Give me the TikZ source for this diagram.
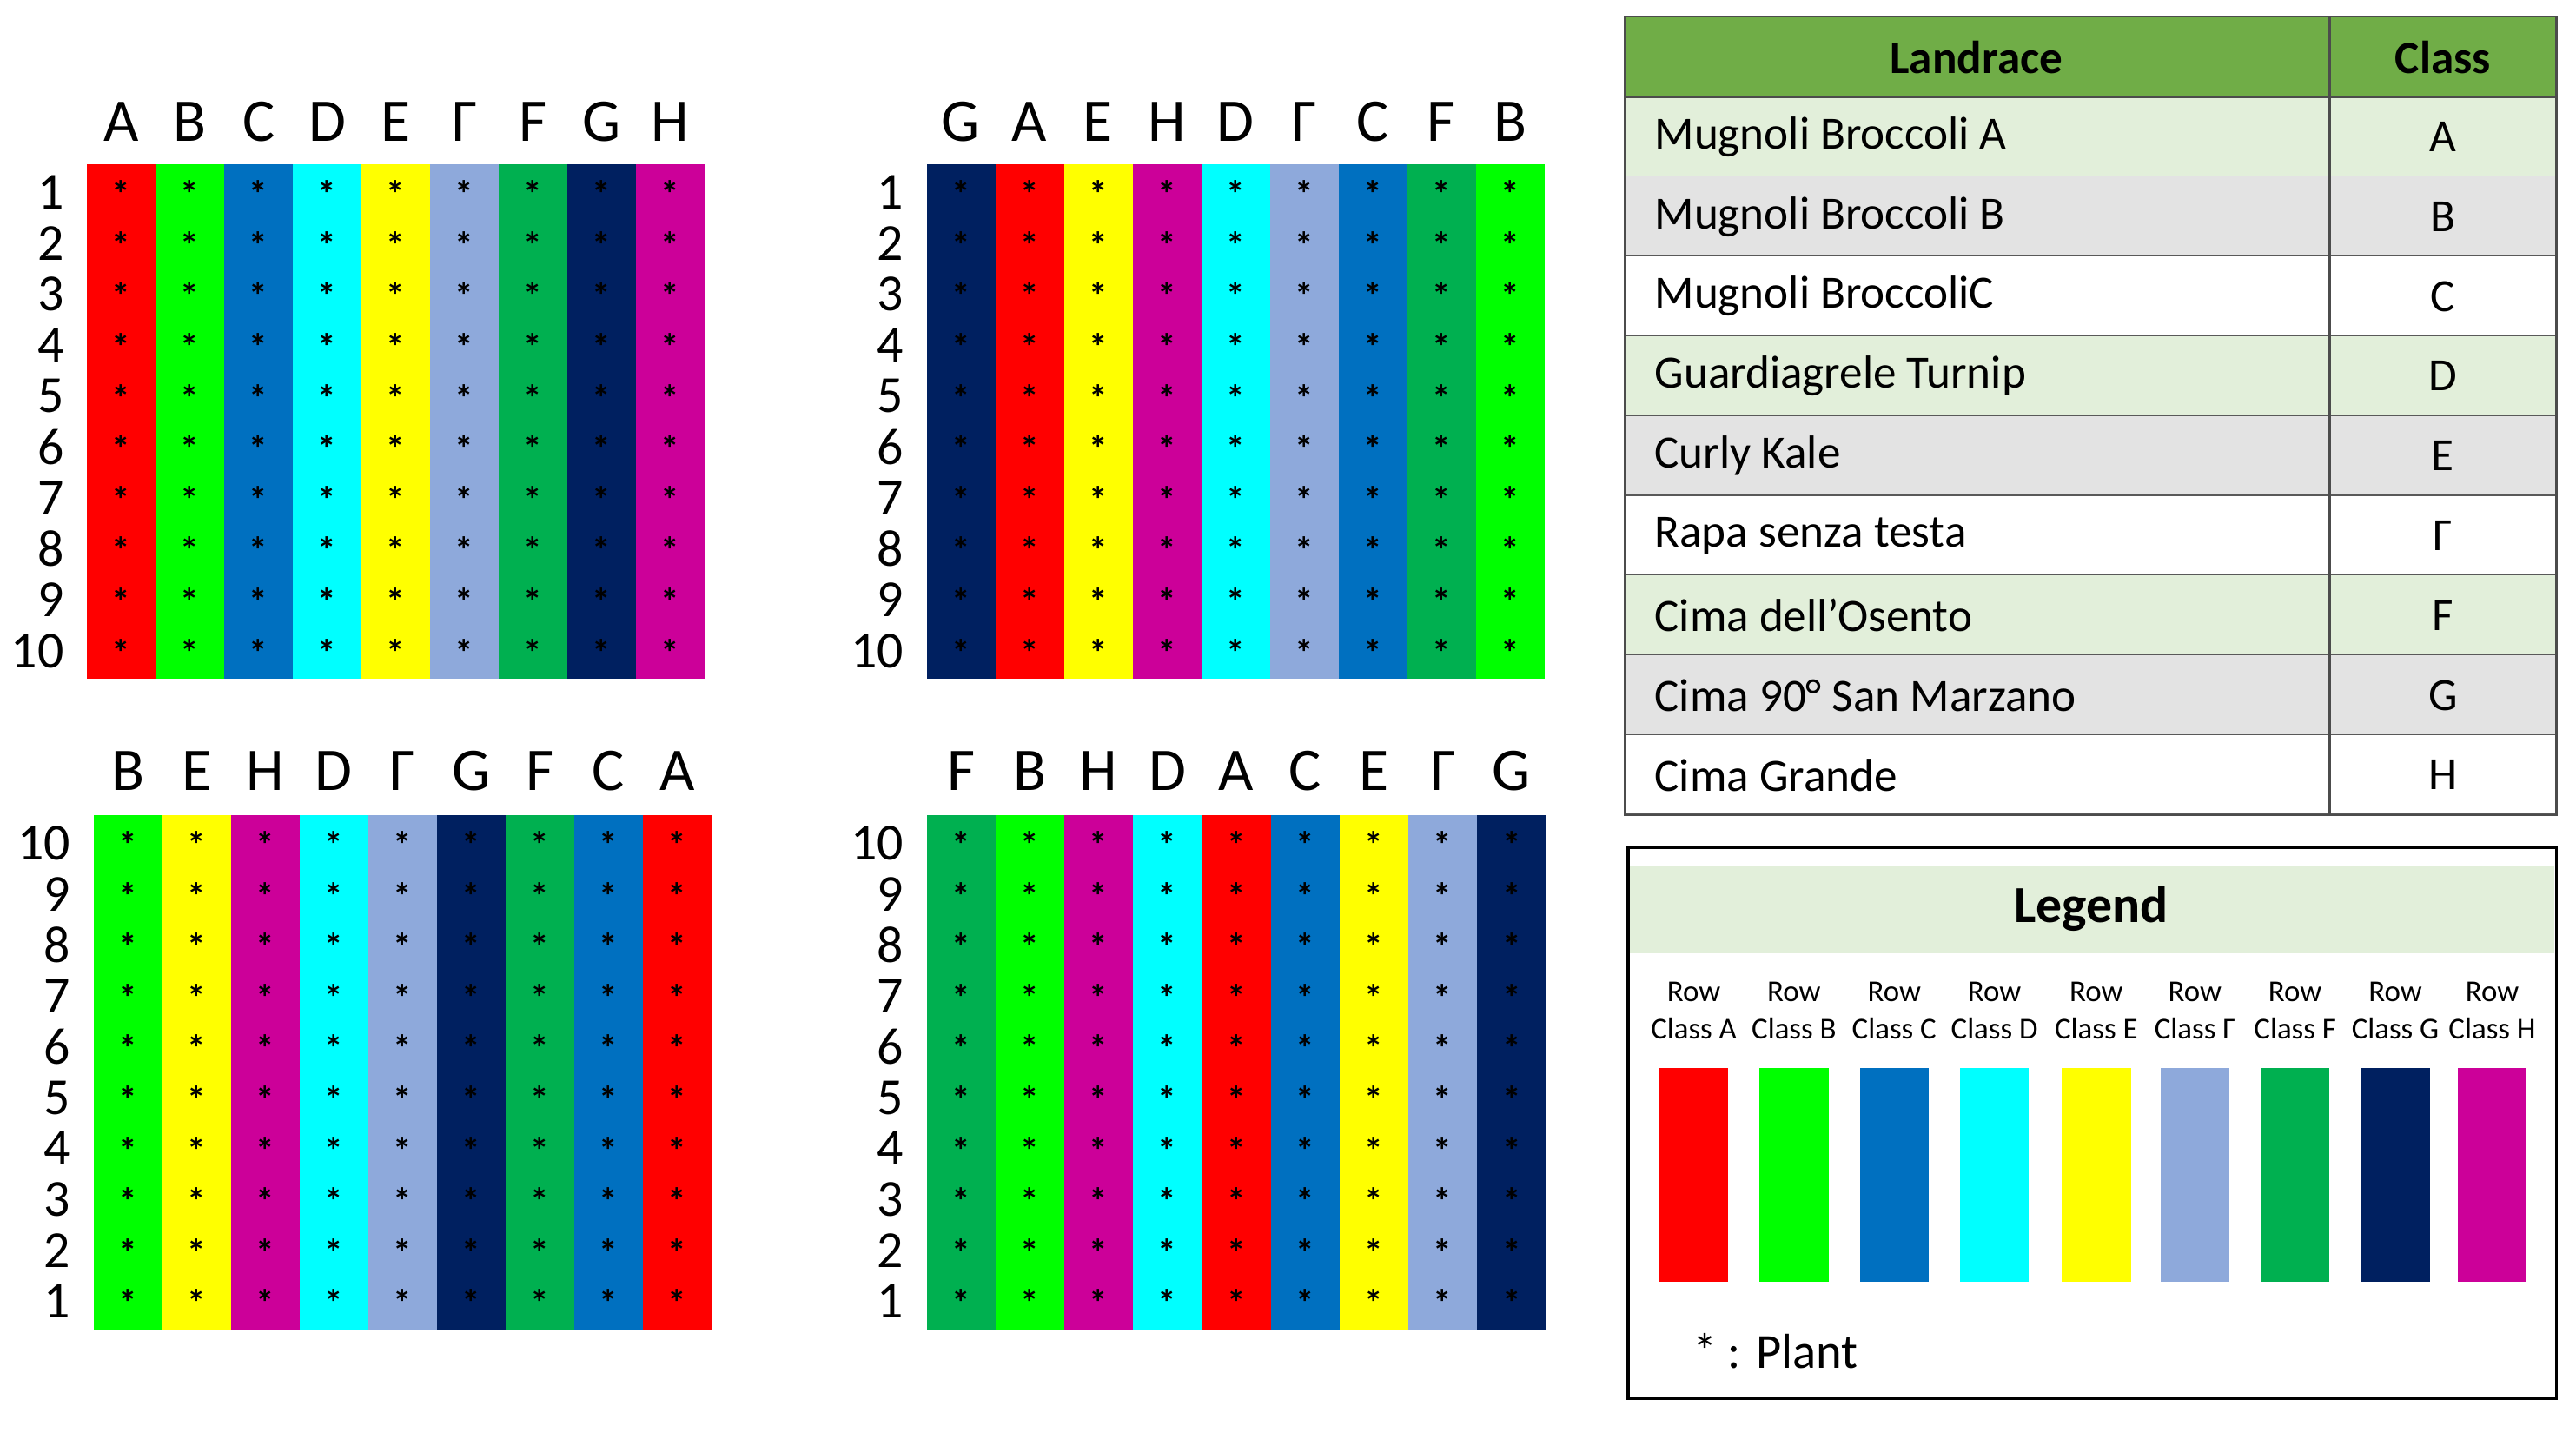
\documentclass[tikz,border=0pt]{standalone}
\usepackage{fontspec}
\setmainfont{Carlito}
\definecolor{cA}{HTML}{FF0000}
\definecolor{cB}{HTML}{00FF00}
\definecolor{cC}{HTML}{0070C0}
\definecolor{cD}{HTML}{00FFFF}
\definecolor{cE}{HTML}{FFFF00}
\definecolor{cY}{HTML}{8EA9DB}
\definecolor{cF}{HTML}{00B050}
\definecolor{cG}{HTML}{002060}
\definecolor{cH}{HTML}{CC0099}
\definecolor{hdr}{HTML}{70AD47}
\definecolor{lgreen}{HTML}{E2EFDA}
\definecolor{lgray}{HTML}{E3E3E3}
\tikzset{
 colhead/.style={font=\fontsize{21}{24}\selectfont, anchor=center},
 rownum/.style={font=\fontsize{18}{20}\selectfont, anchor=east},
 plant/.style={font=\fontsize{13}{14}\selectfont\bfseries, anchor=center, inner sep=0},
 cell/.style={font=\fontsize{16}{18}\selectfont, anchor=west},
 lab/.style={font=\fontsize{10.5}{13}\selectfont, align=center, anchor=center},
}
\newcommand{\mygrid}[6]{% #1 x0, #2 y0 (top), #3 list of letter/color, #4 header y, #5 row-order flag, #6 width
 \foreach \L/\C [count=\i from 0] in {#3} {
   \fill[\C] ({#1+\i*#6/9},#2) rectangle ({#1+(\i+1)*#6/9},{#2+313});
   \node[colhead] at ({#1+(\i+0.5)*#6/9},#4) {\L};
   \foreach \r in {0,...,9} \node[plant] at ({#1+(\i+0.5)*#6/9},{#2+18+\r*31}) {*};
 }
 \foreach \r in {0,...,9} {
   \pgfmathtruncatemacro{\n}{#5==0 ? \r+1 : 10-\r}
   \node[rownum] at ({#1-8},{#2+17+\r*31}) {\n};
 }
}
\begin{document}
\begin{tikzpicture}[x=0.02cm,y=-0.02cm]
\useasboundingbox (0,0) rectangle (1568,872);
\mygrid{53}{100}{A/cA,B/cB,C/cC,D/cD,E/cE,Γ/cY,F/cF,G/cG,H/cH}{74}{0}{376}
\mygrid{564}{100}{G/cG,A/cA,E/cE,H/cH,D/cD,Γ/cY,C/cC,F/cF,B/cB}{74}{0}{376}
\mygrid{57}{496}{B/cB,E/cE,H/cH,D/cD,Γ/cY,G/cG,F/cF,C/cC,A/cA}{469}{1}{376}
\mygrid{564}{496}{F/cF,B/cB,H/cH,D/cD,A/cA,C/cC,E/cE,Γ/cY,G/cG}{469}{1}{377}
% table
\fill[hdr] (989,10) rectangle (1556,59);
\node[font=\fontsize{16}{18}\selectfont\bfseries] (th1) at (1203,35) {Landrace};
\node[font=\fontsize{16}{18}\selectfont\bfseries] (th2) at (1487,35) {Class};
\foreach \name/\cl [count=\i from 0] in {Mugnoli Broccoli A/A,Mugnoli Broccoli B/B,Mugnoli BroccoliC/C,Guardiagrele Turnip/D,Curly Kale/E,Rapa senza testa/Γ,Cima dell’Osento/F,Cima 90° San Marzano/G,Cima Grande/H} {
  \pgfmathtruncatemacro{\m}{mod(\i,3)}
  \ifnum\m=0 \def\bg{lgreen}\else\ifnum\m=1 \def\bg{lgray}\else\def\bg{white}\fi\fi
  \fill[\bg] (989,{59+\i*48.55}) rectangle (1556,{59+(\i+1)*48.55});
  \node[cell] at (1001,{59+(\i+0.5)*48.55}) {\name};
  \node[font=\fontsize{16}{18}\selectfont] at (1487,{59+(\i+0.5)*48.55}) {\cl};
  \draw[gray!70!black, line width=0.8pt] (989,{59+(\i+1)*48.55}) -- (1556,{59+(\i+1)*48.55});
}
\draw[gray!60!black, line width=0.8pt] (989,10) rectangle (1556,496);
\draw[gray!60!black, line width=0.8pt] (989,59) -- (1556,59);
\draw[gray!60!black, line width=0.8pt] (1418,10) -- (1418,496);
% legend
\fill[lgreen] (992,527) rectangle (1555,580);
\draw[black, line width=1pt] (991,516) rectangle (1556,851);
\node[font=\fontsize{18}{20}\selectfont\bfseries] (leg) at (1273,553) {Legend};
\foreach \L/\C/\xx in {A/cA/1031,B/cB/1092,C/cC/1153,D/cD/1214,E/cE/1276,Γ/cY/1336,F/cF/1397,G/cG/1458,H/cH/1517} {
  \node[lab] at (\xx,615) {Row\\Class \L};
  \fill[\C] ({\xx-21},650) rectangle ({\xx+21},780);
}
\node[font=\fontsize{17}{20}\selectfont, anchor=west] (pl) at (1024,822) {* : Plant};
\end{tikzpicture}
\end{document}
